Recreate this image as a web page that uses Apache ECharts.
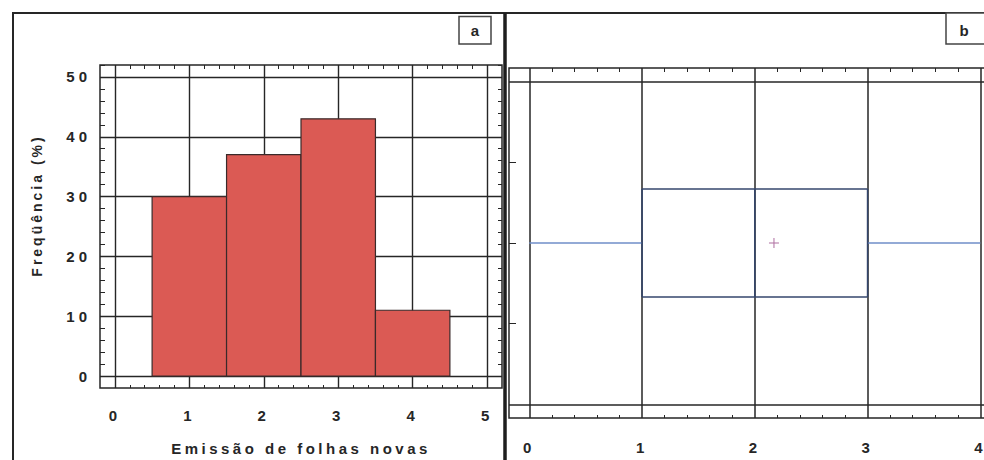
<!DOCTYPE html>
<html>
<head>
<meta charset="utf-8">
<script src="https://cdn.jsdelivr.net/npm/echarts@6/dist/echarts.min.js"></script>
<style>
  html, body { margin: 0; padding: 0; background: #fff; }
  #chart { width: 984px; height: 460px; }
</style>
</head>
<body>
<div id="chart"></div>
<script>
// ---- Panel a: histogram ----
const binCenters = [1, 2, 3, 4];
const frequency = [30, 37, 43, 11];
const xTicksA = [0, 1, 2, 3, 4, 5];
const yTicksA = [0, 10, 20, 30, 40, 50];
const xTitleA = 'Emissão de folhas novas';
const yTitleA = 'Freqüência (%)';

// ---- Panel b: box plot ----
const boxStats = [0, 1, 2, 3, 4];   // min, Q1, median, Q3, max
const boxMean = [2.17];
const xTicksB = [0, 1, 2, 3, 4];
const yTicksB = [1, 2, 3];
const yLinesB = [0, 4];

function steps(a, b, s, skipInt) {
  const out = [];
  const n = Math.round((b - a) / s);
  for (let i = 0; i <= n; i++) {
    const v = Math.round((a + i * s) * 1000) / 1000;
    if (skipInt && Math.abs(v - Math.round(v)) < 1e-6) continue;
    out.push(v);
  }
  return out;
}
const minorA = steps(0, 5, 0.2, true);
const minorB = steps(0, 4, 0.2, true);
const yMinorA = steps(0, 52, 2, false);

const ink = '#262626';
const FONT = 'Liberation Sans';

const chart = echarts.init(document.getElementById('chart'), null, { renderer: 'svg' });

const hidden = { show: false, onZero: false };
function minorAxis(pos, grid, min, max, vals, len) {
  return {
    type: 'value', gridIndex: grid, position: pos, min: min, max: max,
    axisLine: hidden, axisLabel: { show: false }, splitLine: { show: false },
    axisTick: { show: true, inside: true, length: len, customValues: vals, lineStyle: { color: ink, width: 1 } }
  };
}

const option = {
  animation: false,
  backgroundColor: '#fff',
  grid: [
    { left: 100, top: 65, width: 402, height: 323, show: true, borderColor: ink, borderWidth: 1.5, containLabel: false, outerBoundsMode: 'none' },
    { left: 509, top: 68, width: 491.6, height: 350, show: true, borderColor: ink, borderWidth: 1.5, containLabel: false, outerBoundsMode: 'none' }
  ],
  xAxis: [
    {
      type: 'value', gridIndex: 0, position: 'bottom', min: -0.2, max: 5.2,
      axisLine: hidden,
      axisTick: { show: false, customValues: xTicksA },
      axisLabel: { customValues: xTicksA, margin: 20, color: ink, fontFamily: FONT, fontWeight: 'bold', fontSize: 15 },
      splitLine: { show: true, lineStyle: { color: ink, width: 1.4 } },
      name: xTitleA, nameLocation: 'middle', nameGap: 53,
      nameTextStyle: { color: ink, fontFamily: FONT, fontWeight: 'bold', fontSize: 15 }
    },
    minorAxis('bottom', 0, -0.2, 5.2, minorA, 3),
    minorAxis('top', 0, -0.2, 5.2, minorA, 4),
    {
      type: 'value', gridIndex: 1, position: 'bottom', min: -0.18, max: 4.18,
      axisLine: hidden,
      axisTick: { show: false, customValues: xTicksB },
      axisLabel: { customValues: xTicksB, margin: 22, color: ink, fontFamily: FONT, fontWeight: 'bold', fontSize: 15 },
      splitLine: { show: true, lineStyle: { color: ink, width: 1.5 } }
    },
    minorAxis('bottom', 1, -0.18, 4.18, minorB, 3),
    minorAxis('top', 1, -0.18, 4.18, minorB, 4)
  ],
  yAxis: [
    {
      type: 'value', gridIndex: 0, position: 'left', min: -2, max: 52,
      axisLine: hidden,
      axisTick: { show: false, customValues: yTicksA },
      axisLabel: { customValues: yTicksA, margin: 9, color: ink, fontFamily: FONT, fontWeight: 'bold', fontSize: 15 },
      splitLine: { show: true, lineStyle: { color: ink, width: 1.4 } },
      name: yTitleA, nameLocation: 'middle', nameGap: 56, nameRotate: 90,
      nameTextStyle: { color: ink, fontFamily: FONT, fontWeight: 'bold', fontSize: 14, padding: [0, 0, 0, 42] }
    },
    minorAxis('left', 0, -2, 52, yMinorA, 5),
    minorAxis('right', 0, -2, 52, yMinorA, 4),
    {
      type: 'value', gridIndex: 1, position: 'left', min: -0.17, max: 4.17,
      axisLine: hidden,
      axisTick: { show: false, customValues: yLinesB },
      axisLabel: { show: false },
      splitLine: { show: true, lineStyle: { color: ink, width: 1.5 } }
    },
    minorAxis('left', 1, -0.17, 4.17, yTicksB, 7)
  ],
  series: [
    {
      type: 'custom', xAxisIndex: 0, yAxisIndex: 0, z: 5,
      data: binCenters.map((c, i) => [c, frequency[i]]),
      renderItem: function (params, api) {
        const c = api.value(0), v = api.value(1);
        const p0 = api.coord([c - 0.5, v]);
        const p1 = api.coord([c + 0.5, 0]);
        return {
          type: 'rect',
          shape: { x: p0[0], y: p0[1], width: p1[0] - p0[0], height: p1[1] - p0[1] },
          style: { fill: '#db5a54', stroke: '#3a2a2a', lineWidth: 1.2 }
        };
      }
    },
    {
      type: 'custom', xAxisIndex: 3, yAxisIndex: 3, z: 5,
      data: [boxStats],
      renderItem: function (params, api) {
        const mn = api.value(0), q1 = api.value(1), md = api.value(2), q3 = api.value(3), mx = api.value(4);
        const yc = 2, hh = 0.67;
        const a = api.coord([mn, yc]), b = api.coord([q1, yc]);
        const c = api.coord([q3, yc]), d = api.coord([mx, yc]);
        const tl = api.coord([q1, yc + hh]), br = api.coord([q3, yc - hh]);
        const mt = api.coord([md, yc + hh]), mb = api.coord([md, yc - hh]);
        const whisk = { stroke: '#6f8ec8', lineWidth: 1.5 };
        const boxS = { stroke: '#34466c', lineWidth: 1.5 };
        return {
          type: 'group',
          children: [
            { type: 'line', shape: { x1: a[0], y1: a[1], x2: b[0], y2: b[1] }, style: whisk },
            { type: 'line', shape: { x1: c[0], y1: c[1], x2: d[0], y2: d[1] }, style: whisk },
            { type: 'line', shape: { x1: tl[0], y1: tl[1], x2: br[0], y2: tl[1] }, style: boxS },
            { type: 'line', shape: { x1: tl[0], y1: br[1], x2: br[0], y2: br[1] }, style: boxS },
            { type: 'line', shape: { x1: tl[0], y1: tl[1], x2: tl[0], y2: br[1] }, style: boxS },
            { type: 'line', shape: { x1: br[0], y1: tl[1], x2: br[0], y2: br[1] }, style: boxS },
            { type: 'line', shape: { x1: mt[0], y1: mt[1], x2: mb[0], y2: mb[1] }, style: boxS }
          ]
        };
      }
    },
    {
      type: 'scatter', xAxisIndex: 3, yAxisIndex: 3, z: 6,
      data: boxMean.map(m => [m, 2]),
      symbol: 'path://M4.5,0h1v4.5h4.5v1h-4.5v4.5h-1v-4.5h-4.5v-1h4.5z',
      symbolSize: 10,
      itemStyle: { color: '#9a4a88' }
    }
  ],
  graphic: [
    { type: 'line', shape: { x1: 12, y1: 13, x2: 984, y2: 13 }, style: { stroke: ink, lineWidth: 2 }, z: 10 },
    { type: 'line', shape: { x1: 13, y1: 13, x2: 13, y2: 460 }, style: { stroke: ink, lineWidth: 2 }, z: 10 },
    { type: 'line', shape: { x1: 505, y1: 13, x2: 505, y2: 460 }, style: { stroke: '#1e1e1e', lineWidth: 3.5 }, z: 10 },
    { type: 'rect', shape: { x: 459, y: 16.5, width: 32, height: 27.5 }, style: { fill: '#fff', stroke: '#444', lineWidth: 1.5 }, z: 10 },
    { type: 'text', x: 475, y: 30, style: { text: 'a', fill: ink, font: 'bold 15px "Liberation Sans"', align: 'center', verticalAlign: 'middle' }, z: 11 },
    { type: 'rect', shape: { x: 946, y: 13, width: 60, height: 31 }, style: { fill: '#fff', stroke: '#444', lineWidth: 1.5 }, z: 10 },
    { type: 'text', x: 964, y: 30, style: { text: 'b', fill: ink, font: 'bold 15px "Liberation Sans"', align: 'center', verticalAlign: 'middle' }, z: 11 }
  ]
};

chart.setOption(option);

function spaceText() {
  document.querySelectorAll('#chart svg text').forEach(t => {
    const s = t.textContent;
    if (s === xTitleA) t.style.letterSpacing = '3.5px';
    else if (s === yTitleA) t.style.letterSpacing = '3px';
    else if (/^\d+$/.test(s)) t.style.letterSpacing = '4px';
  });
}
spaceText();
chart.on('finished', spaceText);
</script>
</body>
</html>
